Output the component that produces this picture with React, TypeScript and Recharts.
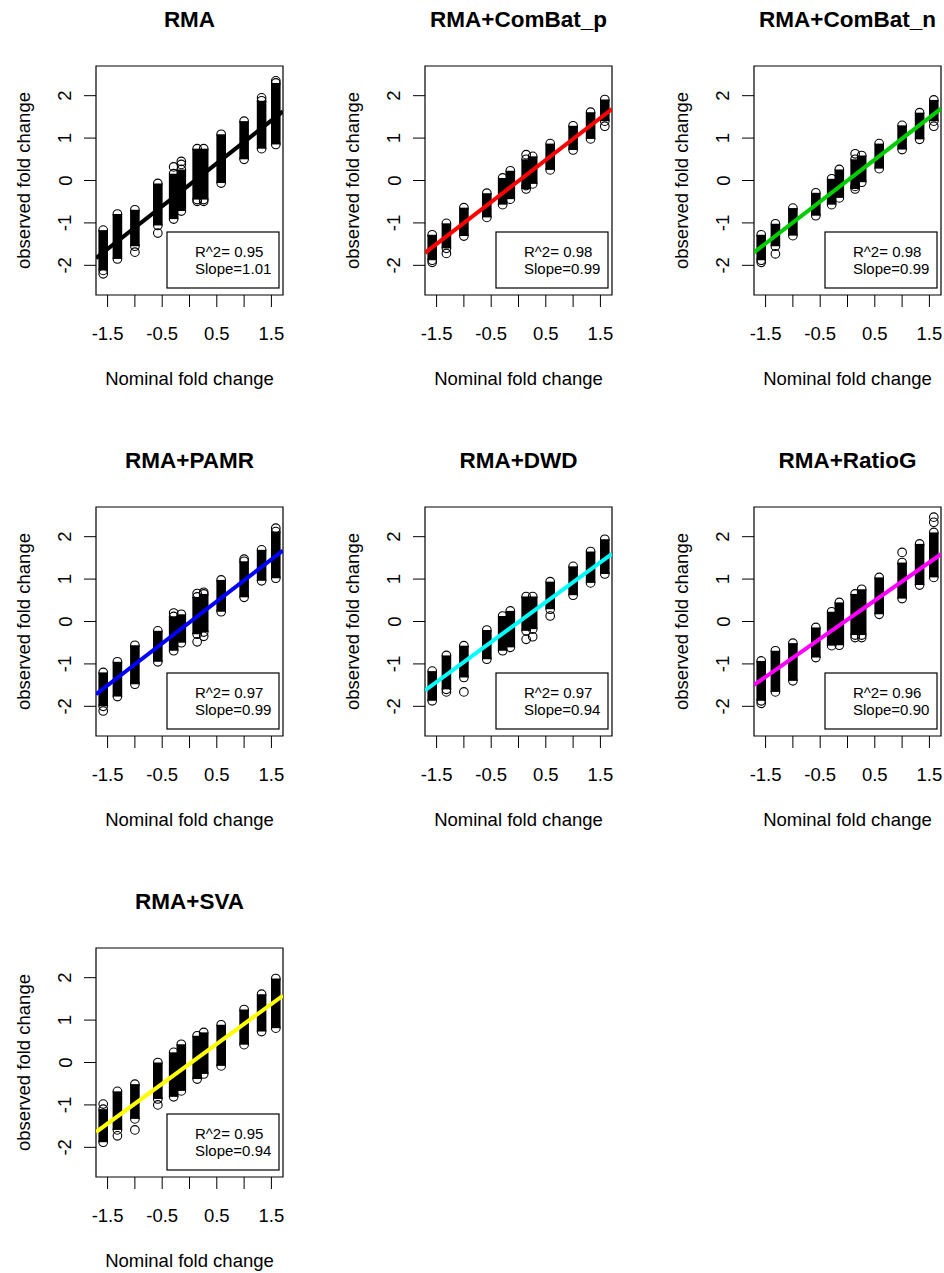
import React from "react";
import { ScatterChart, Scatter, XAxis, YAxis, ErrorBar, ReferenceArea } from "recharts";

// nominal log2 fold changes (x positions of the point columns)
const nominal = [-1.58, -1.32, -1.0, -0.58, -0.29, -0.15, 0.14, 0.26, 0.58, 1.0, 1.32, 1.58];

const xTicks = [-1.5, -1, -0.5, 0, 0.5, 1, 1.5];
const xLabelled = [-1.5, -0.5, 0.5, 1.5];
const yTicks = [-2, -1, 0, 1, 2];
const xDomain = [-1.712, 1.712];
const yDomain = [-2.7, 2.7];

const titles = ["RMA", "RMA+ComBat_p", "RMA+ComBat_n", "RMA+PAMR", "RMA+DWD", "RMA+RatioG", "RMA+SVA"];
const lineColors = ["#000000", "#ff0000", "#00cd00", "#0000ff", "#00ffff", "#ff00ff", "#ffff00"];
const rSquared = ["0.95", "0.98", "0.98", "0.97", "0.97", "0.96", "0.95"];
const slopes = [1.01, 0.99, 0.99, 0.99, 0.94, 0.9, 0.94];
const intercepts = [-0.1, -0.01, 0.0, -0.02, -0.015, 0.045, -0.03];

// dense part of each column: highest and lowest observed value
const rmaHigh = [-1.17, -0.79, -0.69, -0.07, 0.16, 0.26, 0.75, 0.75, 1.09, 1.4, 1.88, 2.3];
const rmaLow = [-2.12, -1.85, -1.55, -1.06, -0.91, -0.72, -0.45, -0.45, -0.06, 0.5, 0.75, 0.85];
const rmaExtra = [[-1.58, -2.2], [-1.0, -1.69], [-0.58, -1.24], [-0.29, 0.32], [-0.15, 0.38], [-0.15, 0.45], [0.14, -0.49], [0.26, -0.49], [1.32, 1.95], [1.58, 2.35]];

const cbpHigh = [-1.28, -1.01, -0.64, -0.3, 0.06, 0.23, 0.5, 0.57, 0.87, 1.29, 1.61, 1.91];
const cbpLow = [-1.88, -1.6, -1.31, -0.87, -0.57, -0.44, -0.2, -0.08, 0.25, 0.72, 0.98, 1.4];
const cbpExtra = [[-1.58, -1.93], [-1.32, -1.72], [0.14, 0.61], [0.14, -0.12], [1.58, 1.28]];

const cbnHigh = [-1.28, -1.02, -0.65, -0.29, 0.04, 0.26, 0.5, 0.59, 0.87, 1.3, 1.6, 1.9];
const cbnLow = [-1.88, -1.55, -1.3, -0.83, -0.57, -0.41, -0.2, -0.04, 0.28, 0.73, 0.97, 1.4];
const cbnExtra = [[-1.58, -1.93], [-1.32, -1.73], [0.14, 0.63], [0.14, -0.14], [1.58, 1.28]];

const pamrHigh = [-1.2, -0.95, -0.56, -0.22, 0.12, 0.17, 0.58, 0.65, 0.98, 1.42, 1.69, 2.12];
const pamrLow = [-2.0, -1.77, -1.48, -0.95, -0.69, -0.5, -0.3, -0.25, 0.23, 0.57, 0.96, 1.02];
const pamrExtra = [[-1.58, -2.11], [-0.29, 0.2], [0.14, 0.66], [0.14, -0.48], [0.26, 0.69], [0.26, -0.35], [1.0, 1.47], [1.58, 2.2]];

const dwdHigh = [-1.17, -0.8, -0.57, -0.2, 0.13, 0.25, 0.59, 0.59, 0.94, 1.3, 1.65, 1.94];
const dwdLow = [-1.87, -1.6, -1.32, -0.89, -0.69, -0.61, -0.22, -0.18, 0.29, 0.62, 0.91, 1.12];
const dwdExtra = [[-1.32, -1.66], [-1.0, -1.66], [0.14, -0.42], [0.26, -0.36], [0.58, 0.13]];

const ratioHigh = [-0.93, -0.69, -0.51, -0.14, 0.23, 0.45, 0.65, 0.76, 1.04, 1.39, 1.83, 2.1];
const ratioLow = [-1.87, -1.66, -1.4, -0.85, -0.57, -0.56, -0.32, -0.32, 0.17, 0.54, 0.86, 1.04];
const ratioExtra = [[-1.58, -1.93], [0.14, -0.38], [0.26, -0.38], [1.0, 1.63], [1.58, 2.34], [1.58, 2.46]];

const svaHigh = [-1.1, -0.68, -0.51, 0.0, 0.24, 0.43, 0.63, 0.71, 0.89, 1.25, 1.61, 1.98];
const svaLow = [-1.88, -1.59, -1.33, -0.86, -0.81, -0.67, -0.39, -0.27, -0.08, 0.42, 0.73, 0.81];
const svaExtra = [[-1.58, -0.98], [-1.32, -1.73], [-1.0, -1.59], [-0.58, -1.0]];

const highs = [rmaHigh, cbpHigh, cbnHigh, pamrHigh, dwdHigh, ratioHigh, svaHigh];
const lows = [rmaLow, cbpLow, cbnLow, pamrLow, dwdLow, ratioLow, svaLow];
const extras = [rmaExtra, cbpExtra, cbnExtra, pamrExtra, dwdExtra, ratioExtra, svaExtra];

const FONT = '"Liberation Sans", Arial, sans-serif';
const PW = 329;
const PH = 441;

const XTick = (props: any) => {
  const { x, y, payload } = props;
  if (!xLabelled.includes(payload.value)) return <g />;
  return (
    <text x={x} y={y + 31} textAnchor="middle" fontSize={18.5} fill="#000" fontFamily={FONT}>
      {payload.value}
    </text>
  );
};

const YTick = (props: any) => {
  const { x, y, payload } = props;
  const bx = x - 10.5;
  return (
    <text x={bx} y={y} textAnchor="middle" fontSize={18.5} fill="#000" fontFamily={FONT} transform={`rotate(-90, ${bx}, ${y})`}>
      {payload.value}
    </text>
  );
};

const circle = (props: any) => (
  <circle cx={props.cx} cy={props.cy} r={4.3} fill="none" stroke="#000" strokeWidth={1.1} />
);
const hidden = () => <g />;

const Panel = ({ idx }: { idx: number }) => {
  const col = idx % 3;
  const row = Math.floor(idx / 3);
  const hi = highs[idx];
  const lo = lows[idx];
  const core = nominal.map((x, i) => {
    const mid = (lo[i] + hi[i]) / 2;
    return { x, y: mid, err: [mid - lo[i], hi[i] - mid] };
  });
  const pts = nominal
    .flatMap((x, i) => [{ x, y: lo[i] }, { x, y: hi[i] }])
    .concat(extras[idx].map(([x, y]) => ({ x, y })));
  const fit = xDomain.map((x) => ({ x, y: intercepts[idx] + slopes[idx] * x }));

  return (
    <div style={{ position: "absolute", left: col * PW, top: row * PH, width: PW, height: PH }}>
      <ScatterChart width={PW} height={PH} margin={{ top: 66, right: 46, bottom: 0, left: 0 }}>
        <XAxis type="number" dataKey="x" domain={xDomain} ticks={xTicks} interval={0} allowDataOverflow
          axisLine={false} tickSize={12} stroke="#000" height={146} tick={(p: any) => <XTick {...p} />} />
        <YAxis type="number" dataKey="y" domain={yDomain} ticks={yTicks} interval={0} allowDataOverflow
          axisLine={false} tickSize={12} stroke="#000" width={96} tick={(p: any) => <YTick {...p} />} />
        <ReferenceArea x1={xDomain[0]} x2={xDomain[1]} y1={yDomain[0]} y2={yDomain[1]} fill="none" fillOpacity={0} stroke="#000" strokeWidth={1.2} />
        <Scatter data={core} shape={hidden} isAnimationActive={false}>
          <ErrorBar dataKey="err" direction="y" width={0} stroke="#000" strokeWidth={9.6} isAnimationActive={false} />
        </Scatter>
        <Scatter data={pts} shape={circle} isAnimationActive={false} />
        <Scatter data={fit} shape={hidden} line={{ stroke: lineColors[idx], strokeWidth: 4 }} isAnimationActive={false} />
      </ScatterChart>
      <svg width={PW} height={PH} style={{ position: "absolute", left: 0, top: 0, pointerEvents: "none" }} fontFamily={FONT}>
        <text x={189.5} y={27} textAnchor="middle" fontSize={22.5} fontWeight="bold">{titles[idx]}</text>
        <text x={189.5} y={385} textAnchor="middle" fontSize={18.5}>Nominal fold change</text>
        <text x={30} y={180.5} textAnchor="middle" fontSize={18.5} transform="rotate(-90, 30, 180.5)">observed fold change</text>
        <rect x={167} y={232} width={112} height={56} fill="#fff" stroke="#000" strokeWidth={1.2} />
        <text x={195} y={257} fontSize={15}>{`R^2= ${rSquared[idx]}`}</text>
        <text x={195} y={274} fontSize={15}>{`Slope=${slopes[idx].toFixed(2)}`}</text>
      </svg>
    </div>
  );
};

const App = () => {
  return (
    <div style={{ position: "absolute", left: 0, top: 0, width: 944, height: 1273, overflow: "hidden", background: "#fff", fontFamily: FONT }}>
      {titles.map((t, i) => (
        <Panel key={t} idx={i} />
      ))}
    </div>
  );
};

export default App;
